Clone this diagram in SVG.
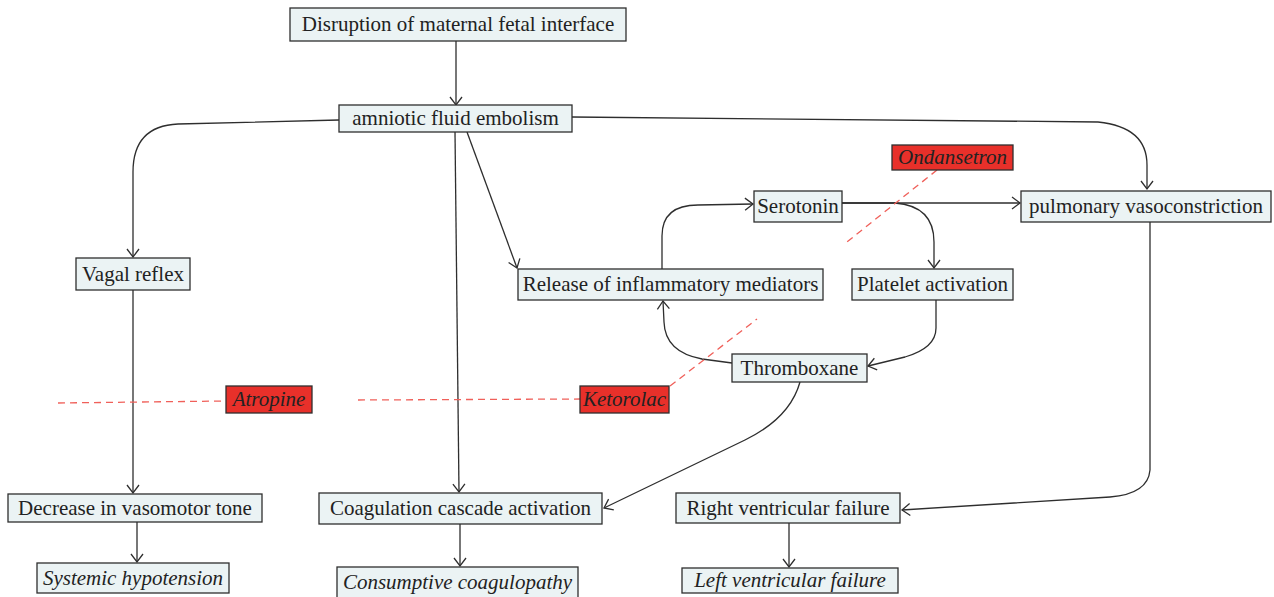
<svg xmlns="http://www.w3.org/2000/svg" width="1274" height="597" viewBox="0 0 1274 597">
<defs>
<style>
.box{fill:#ebf3f4;stroke:#2e2e2e;stroke-width:1.3}
.red{fill:#e8302a;stroke:#2e2e2e;stroke-width:1.3}
.t{font-family:"Liberation Serif",serif;font-size:21px;fill:#222;text-anchor:middle}
.i{font-style:italic}
.c{fill:none;stroke:#2e2e2e;stroke-width:1.3}
.d{fill:none;stroke:#f0605a;stroke-width:1.3;stroke-dasharray:7 5}
</style>
<marker id="a" viewBox="-10 -7 12 14" refX="0" refY="0" markerWidth="12" markerHeight="14" markerUnits="userSpaceOnUse" orient="auto">
<path d="M-8,-6 L0,0 L-8,6" fill="none" stroke="#2e2e2e" stroke-width="1.3"/>
</marker>
</defs>
<rect width="1274" height="597" fill="#fff"/>
<g id="connectors">
<path class="c" marker-end="url(#a)" d="M456,41 L456,105"/>
<path class="c" marker-end="url(#a)" d="M339,120 L178,124 Q133,126 133,172 L133,257"/>
<path class="c" marker-end="url(#a)" d="M572,117 L1098,122 Q1147,127 1147,165 L1147,189"/>
<path class="c" marker-end="url(#a)" d="M455,132 L459,492"/>
<path class="c" marker-end="url(#a)" d="M467,132 L517,268"/>
<path class="c" marker-end="url(#a)" d="M662,269 L662,236 Q662,205 698,205 L753,204"/>
<path class="c" marker-end="url(#a)" d="M842,203 L1020,203"/>
<path class="c" marker-end="url(#a)" d="M842,203 L895,203 Q934,206 934,242 L934,268"/>
<path class="c" marker-end="url(#a)" d="M936,300 L936,328 Q936,348 905,357 L868,366"/>
<path class="c" marker-end="url(#a)" d="M732,363 L702,359 Q665,352 664,322 L663,301"/>
<path class="c" marker-end="url(#a)" d="M800,382 Q790,418 745,440 L604,508"/>
<path class="c" marker-end="url(#a)" d="M1150,222 L1150,470 Q1148,494 1110,497 L902,510"/>
<path class="c" marker-end="url(#a)" d="M133,290 L133,493"/>
<path class="c" marker-end="url(#a)" d="M137,522 L137,562"/>
<path class="c" marker-end="url(#a)" d="M460,524 L460,566"/>
<path class="c" marker-end="url(#a)" d="M789,523 L789,567"/>
<path class="d" d="M58,403 L226,401"/>
<path class="d" d="M358,400 L580,399"/>
<path class="d" d="M670,386 L757,319"/>
<path class="d" d="M937,170 L847,242"/>
</g>
<g id="n1"><rect class="box" x="290" y="8" width="336" height="33"/><text class="t" x="458" y="31">Disruption of maternal fetal interface</text></g>
<g id="n2"><rect class="box" x="339" y="105" width="233" height="27"/><text class="t" x="455.5" y="125">amniotic fluid embolism</text></g>
<g id="n3"><rect class="box" x="76" y="258" width="114" height="32"/><text class="t" x="133" y="281">Vagal reflex</text></g>
<g id="n4"><rect class="box" x="518" y="269" width="305" height="31"/><text class="t" x="670.5" y="291">Release of inflammatory mediators</text></g>
<g id="n5"><rect class="box" x="754" y="191" width="88" height="31"/><text class="t" x="798" y="213">Serotonin</text></g>
<g id="n6"><rect class="box" x="852" y="269" width="161" height="31"/><text class="t" x="932.5" y="291">Platelet activation</text></g>
<g id="n7"><rect class="box" x="732" y="354" width="135" height="28"/><text class="t" x="799.5" y="375">Thromboxane</text></g>
<g id="n8"><rect class="box" x="1021" y="191" width="250" height="31"/><text class="t" x="1146" y="213">pulmonary vasoconstriction</text></g>
<g id="n9"><rect class="red" x="892" y="145" width="121" height="25"/><text class="t i" x="952.5" y="164">Ondansetron</text></g>
<g id="n10"><rect class="red" x="226" y="386" width="86" height="27"/><text class="t i" x="269" y="406">Atropine</text></g>
<g id="n11"><rect class="red" x="580" y="386" width="89" height="27"/><text class="t i" x="624.5" y="406">Ketorolac</text></g>
<g id="n12"><rect class="box" x="8" y="494" width="254" height="28"/><text class="t" x="135" y="515">Decrease in vasomotor tone</text></g>
<g id="n13"><rect class="box" x="37" y="563" width="192" height="30"/><text class="t i" x="133" y="585">Systemic hypotension</text></g>
<g id="n14"><rect class="box" x="319" y="493" width="283" height="31"/><text class="t" x="460.5" y="515">Coagulation cascade activation</text></g>
<g id="n15"><rect class="box" x="337" y="567" width="241" height="32"/><text class="t i" x="457.5" y="589">Consumptive coagulopathy</text></g>
<g id="n16"><rect class="box" x="676" y="493" width="224" height="30"/><text class="t" x="788" y="515">Right ventricular failure</text></g>
<g id="n17"><rect class="box" x="682" y="568" width="216" height="25"/><text class="t i" x="790" y="587">Left ventricular failure</text></g>
</svg>
